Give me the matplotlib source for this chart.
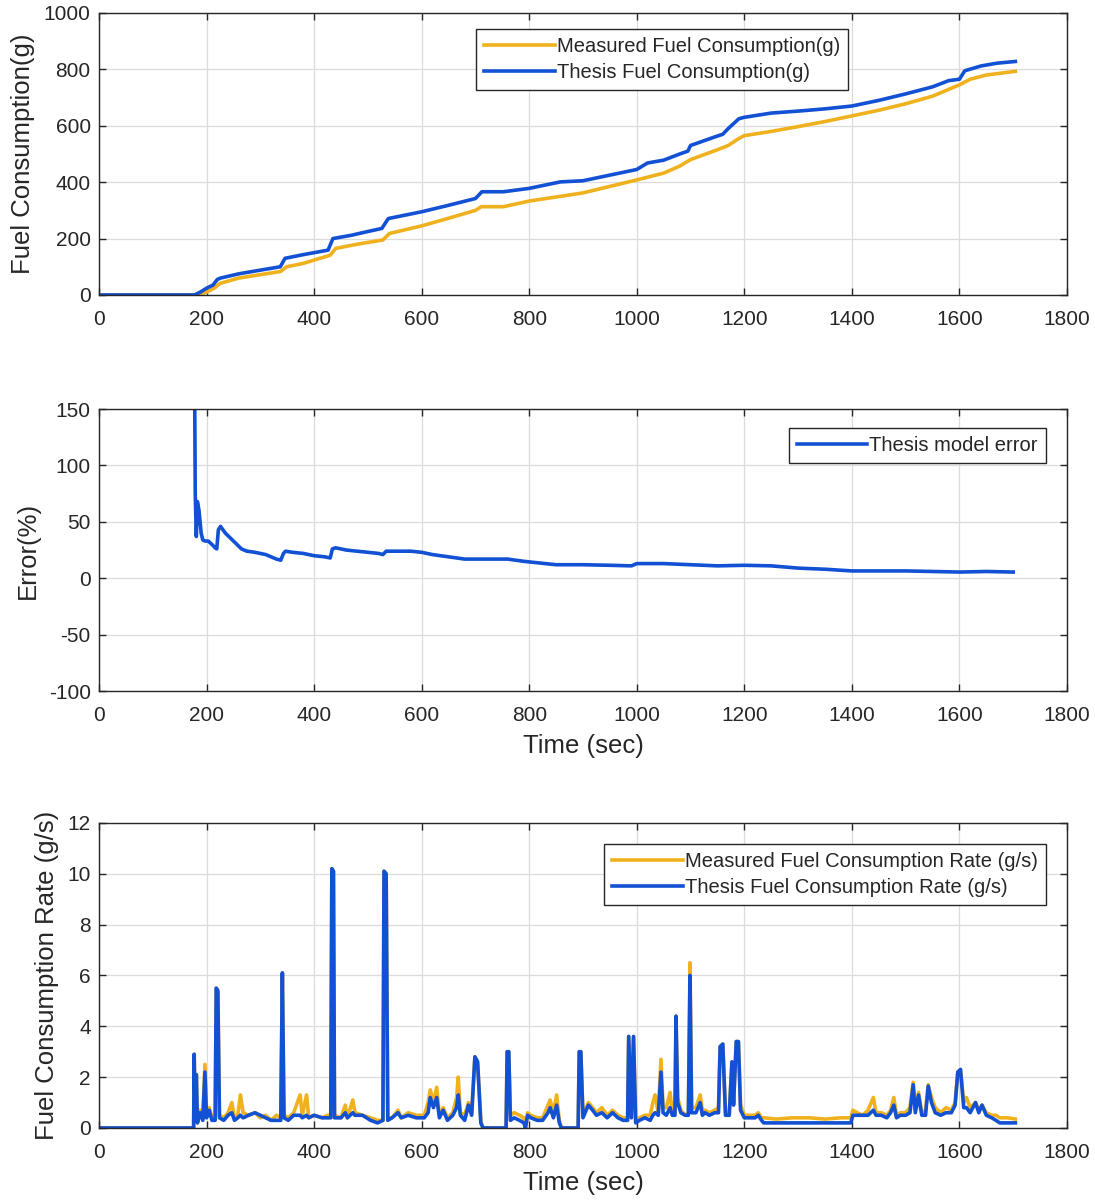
import matplotlib
matplotlib.use("Agg")
import matplotlib.pyplot as plt

plt.rcParams['font.family'] = ['Liberation Sans', 'DejaVu Sans']
plt.rcParams['axes.unicode_minus'] = False

# colours (MATLAB-ish)
YELLOW = '#EFB21E'
BLUE = '#1250D4'
TXT = '#262626'

# ---- cumulative fuel consumption (g) ----
thesis_t = [0, 178, 190, 200, 212, 220, 226, 260, 300, 337, 346, 380, 426, 435, 470, 500,
            526, 538, 600, 650, 700, 712, 752, 800, 858, 900, 950, 1000, 1020, 1050, 1080,
            1095, 1100, 1140, 1160, 1170, 1190, 1200, 1250, 1300, 1350, 1400, 1450, 1500,
            1550, 1580, 1600, 1610, 1640, 1670, 1704]
thesis_g = [0, 0, 12, 24, 35, 55, 60, 75, 88, 100, 130, 143, 159, 200, 212, 225,
            236, 271, 295, 318, 342, 366, 366, 378, 401, 405, 425, 445, 468, 478, 500,
            510, 530, 557, 570, 590, 625, 630, 645, 652, 660, 670, 690, 713,
            738, 760, 765, 795, 812, 822, 828]

meas_t = [0, 180, 200, 215, 225, 260, 300, 337, 349, 380, 430, 440, 480, 528, 540, 600,
          650, 700, 711, 752, 800, 876, 900, 950, 1000, 1050, 1080, 1100, 1150, 1170, 1190,
          1200, 1250, 1300, 1350, 1400, 1450, 1500, 1550, 1600, 1620, 1650, 1704]
meas_g = [0, 0, 10, 25, 41, 60, 72, 83, 100, 112, 141, 165, 180, 195, 218, 245,
          272, 300, 313, 313, 333, 355, 362, 385, 408, 432, 457, 480, 515, 530, 555,
          565, 580, 597, 615, 635, 655, 678, 705, 745, 765, 780, 793]

# ---- model error (%) ----
err_t = [178, 179, 181, 183, 186, 190, 193, 197, 203, 210, 216, 219, 222, 226, 235, 250,
         265, 275, 290, 310, 330, 338, 343, 347, 360, 380, 400, 420, 430, 434, 440, 460,
         480, 500, 520, 528, 534, 550, 580, 600, 620, 650, 680, 700, 730, 760, 790, 810,
         850, 900, 950, 990, 1000, 1050, 1100, 1150, 1200, 1250, 1300, 1350, 1400, 1450,
         1500, 1550, 1600, 1650, 1700]
err_pct = [160, 75, 37, 68, 60, 40, 34, 33, 33, 30, 27, 26, 43, 46, 40, 33,
           26, 24, 23, 21, 17, 16, 22, 24, 23, 22, 20, 19, 18, 26, 27, 25,
           24, 23, 22, 21, 24, 24, 24, 23, 21, 19, 17, 17, 17, 17, 15, 14,
           12, 12, 11.5, 11, 13, 13, 12, 11, 11.5, 11, 9, 8, 6.5, 6.5,
           6.5, 6, 5.5, 6, 5.5]

# ---- fuel consumption rate (g/s) ----
rate_t = [0, 176, 177, 179, 181, 183, 188, 193, 197, 200, 205, 210, 216, 218, 221, 224,
          232, 240, 247, 252, 258, 263, 268, 278, 290, 300, 310, 320, 330, 338, 341, 344,
          352, 362, 374, 378, 386, 390, 400, 415, 425, 431, 433, 436, 438, 450, 458, 462,
          472, 476, 490, 505, 518, 528, 530, 534, 537, 545, 556, 562, 575, 590, 605, 612,
          616, 622, 628, 633, 640, 648, 658, 665, 668, 672, 680, 687, 693, 699, 704, 710,
          714, 757, 759, 762, 765, 772, 782, 790, 793, 797, 803, 815, 825, 835, 839, 845,
          851, 856, 860, 891, 893, 896, 900, 910, 918, 925, 935, 945, 955, 965, 975, 983,
          985, 990, 994, 998, 1005, 1015, 1025, 1030, 1034, 1040, 1045, 1049, 1055, 1062,
          1066, 1071, 1073, 1076, 1082, 1090, 1096, 1099, 1102, 1110, 1118, 1122, 1127,
          1135, 1145, 1152, 1155, 1160, 1165, 1172, 1177, 1180, 1185, 1189, 1193, 1200,
          1210, 1220, 1226, 1232, 1236, 1260, 1290, 1320, 1350, 1380, 1398, 1402, 1410,
          1420, 1430, 1440, 1445, 1455, 1465, 1472, 1478, 1483, 1490, 1500, 1508, 1514,
          1518, 1524, 1530, 1537, 1542, 1548, 1555, 1565, 1575, 1585, 1592, 1597, 1602,
          1608, 1613, 1620, 1630, 1636, 1642, 1650, 1660, 1668, 1675, 1690, 1704]
rate_meas = [0, 0, 2.9, 0.3, 2.1, 0.2, 0.7, 0.4, 2.5, 0.5, 0.8, 0.4, 0.4, 5.5, 5.4, 0.5,
             0.4, 0.6, 1.0, 0.4, 0.5, 1.3, 0.6, 0.5, 0.6, 0.4, 0.5, 0.3, 0.5, 0.4, 6.1, 0.5,
             0.4, 0.6, 1.3, 0.5, 1.3, 0.4, 0.5, 0.4, 0.5, 0.5, 10.2, 10.1, 0.5, 0.4, 0.9, 0.4,
             1.1, 0.6, 0.5, 0.4, 0.3, 0.3, 10.1, 10.0, 0.4, 0.4, 0.7, 0.4, 0.6, 0.5, 0.5, 1.0,
             1.5, 1.0, 1.6, 0.5, 0.8, 0.4, 0.6, 1.2, 2.0, 0.6, 0.5, 1.0, 0.6, 2.8, 2.6, 0.3,
             0, 0, 3.0, 3.0, 0.5, 0.6, 0.5, 0.4, 0, 0.6, 0.5, 0.4, 0.4, 0.9, 1.1, 0.6,
             1.3, 0.3, 0, 0, 3.0, 3.0, 0.5, 1.0, 0.8, 0.6, 0.8, 0.5, 0.7, 0.5, 0.4, 0.4,
             3.6, 0.5, 3.6, 0.3, 0.4, 0.5, 0.5, 1.0, 1.3, 0.6, 2.7, 0.8, 0.8, 1.4,
             0.6, 0.6, 4.4, 1.2, 0.7, 0.5, 0.6, 6.5, 0.8, 0.8, 1.3, 0.7, 0.7,
             0.6, 0.7, 0.8, 3.2, 3.3, 0.6, 0.6, 2.6, 1.0, 3.4, 3.4, 0.9, 0.5,
             0.5, 0.5, 0.6, 0.4, 0.4, 0.35, 0.4, 0.4, 0.35, 0.4, 0.4, 0.7, 0.6,
             0.5, 0.7, 1.2, 0.6, 0.6, 0.5, 0.7, 1.2, 0.5, 0.6, 0.6, 0.8, 1.8,
             0.7, 1.4, 0.6, 0.7, 1.7, 1.2, 0.8, 0.6, 0.8, 0.7, 1.0, 2.2, 2.3,
             1.0, 1.2, 0.8, 1.0, 0.7, 0.9, 0.6, 0.5, 0.5, 0.4, 0.4, 0.35]
rate_thesis = [0, 0, 2.9, 0.3, 2.1, 0.2, 0.6, 0.3, 2.2, 0.4, 0.7, 0.3, 0.3, 5.5, 5.4, 0.4,
               0.3, 0.5, 0.6, 0.3, 0.4, 0.5, 0.4, 0.5, 0.6, 0.5, 0.4, 0.3, 0.3, 0.3, 6.1, 0.4,
               0.3, 0.5, 0.5, 0.4, 0.5, 0.4, 0.5, 0.4, 0.4, 0.4, 10.2, 10.1, 0.4, 0.4, 0.6, 0.4,
               0.6, 0.5, 0.5, 0.3, 0.2, 0.3, 10.1, 10.0, 0.3, 0.4, 0.6, 0.4, 0.5, 0.4, 0.4, 0.6,
               1.2, 0.8, 1.2, 0.4, 0.7, 0.3, 0.5, 0.8, 1.3, 0.5, 0.3, 0.9, 0.5, 2.8, 2.6, 0.2,
               0, 0, 3.0, 3.0, 0.3, 0.4, 0.3, 0.2, 0, 0.5, 0.4, 0.3, 0.3, 0.6, 0.8, 0.4,
               0.9, 0.2, 0, 0, 3.0, 3.0, 0.4, 0.9, 0.7, 0.5, 0.6, 0.4, 0.6, 0.4, 0.3, 0.3,
               3.6, 0.4, 3.6, 0.2, 0.3, 0.4, 0.3, 0.5, 0.6, 0.5, 2.2, 0.6, 0.5, 0.8,
               0.5, 0.5, 4.4, 1.0, 0.6, 0.5, 0.5, 6.0, 0.6, 0.6, 1.0, 0.5, 0.6,
               0.5, 0.6, 0.6, 3.2, 3.3, 0.5, 0.5, 2.6, 0.9, 3.4, 3.4, 0.7, 0.4,
               0.4, 0.4, 0.5, 0.3, 0.2, 0.2, 0.2, 0.2, 0.2, 0.2, 0.2, 0.5, 0.5,
               0.5, 0.5, 0.7, 0.5, 0.5, 0.4, 0.6, 0.9, 0.4, 0.5, 0.5, 0.6, 1.7,
               0.6, 1.3, 0.5, 0.5, 1.65, 1.0, 0.6, 0.5, 0.6, 0.6, 0.9, 2.2, 2.3,
               0.8, 0.8, 0.6, 1.0, 0.6, 0.9, 0.5, 0.4, 0.3, 0.2, 0.2, 0.2]

x_ticks = list(range(0, 1801, 200))

fig = plt.figure(figsize=(10.95, 12.01), dpi=100)
ax1 = fig.add_axes([0.0904, 0.7544, 0.884, 0.2348])
ax2 = fig.add_axes([0.0904, 0.4246, 0.884, 0.2348])
ax3 = fig.add_axes([0.0904, 0.0608, 0.884, 0.2540])


def style(ax):
    ax.set_xlim(0, 1800)
    ax.set_xticks(x_ticks)
    ax.grid(True, color='#DCDCDC', linewidth=0.9)
    ax.set_axisbelow(True)
    ax.tick_params(direction='in', top=True, right=True, length=5, width=1,
                   labelsize=15, colors=TXT)
    ax.tick_params(axis='x', pad=11)
    ax.tick_params(axis='y', pad=6)
    for s in ax.spines.values():
        s.set_color(TXT)
        s.set_linewidth(1.0)


def legend(ax, anchor):
    leg = ax.legend(loc='upper right', bbox_to_anchor=anchor, fontsize=14.5,
                    fancybox=False, framealpha=1, edgecolor=TXT,
                    handlelength=3.5, handletextpad=0.1, borderpad=0.4,
                    labelspacing=0.35, borderaxespad=0)
    leg.get_frame().set_linewidth(1.0)
    for t in leg.get_texts():
        t.set_color(TXT)


lw = 2.6

# top: cumulative
ax1.plot(meas_t, meas_g, color=YELLOW, lw=lw, label='Measured Fuel Consumption(g)')
ax1.plot(thesis_t, thesis_g, color=BLUE, lw=lw, label='Thesis Fuel Consumption(g)')
style(ax1)
ax1.set_ylim(0, 1000)
ax1.set_yticks(range(0, 1001, 200))
ax1.set_ylabel('Fuel Consumption(g)', fontsize=18.5, color=TXT, labelpad=6)
legend(ax1, (0.774, 0.943))

# middle: error
ax2.plot(err_t, err_pct, color=BLUE, lw=lw, label='Thesis model error')
style(ax2)
ax2.set_ylim(-100, 150)
ax2.set_yticks(range(-100, 151, 50))
ax2.set_ylabel('Error(%)', fontsize=18.5, color=TXT, labelpad=6)
ax2.set_xlabel('Time (sec)', fontsize=18.5, color=TXT, labelpad=6)
legend(ax2, (0.978, 0.932))

# bottom: rate
ax3.plot(rate_t, rate_meas, color=YELLOW, lw=lw, label='Measured Fuel Consumption Rate (g/s)')
ax3.plot(rate_t, rate_thesis, color=BLUE, lw=lw, label='Thesis Fuel Consumption Rate (g/s)')
style(ax3)
ax3.set_ylim(0, 12)
ax3.set_yticks(range(0, 13, 2))
ax3.set_ylabel('Fuel Consumption Rate (g/s)', fontsize=18.5, color=TXT, labelpad=6)
ax3.set_xlabel('Time (sec)', fontsize=18.5, color=TXT, labelpad=6)
legend(ax3, (0.978, 0.931))

fig.savefig('out.png', dpi=100)
plt.close(fig)
